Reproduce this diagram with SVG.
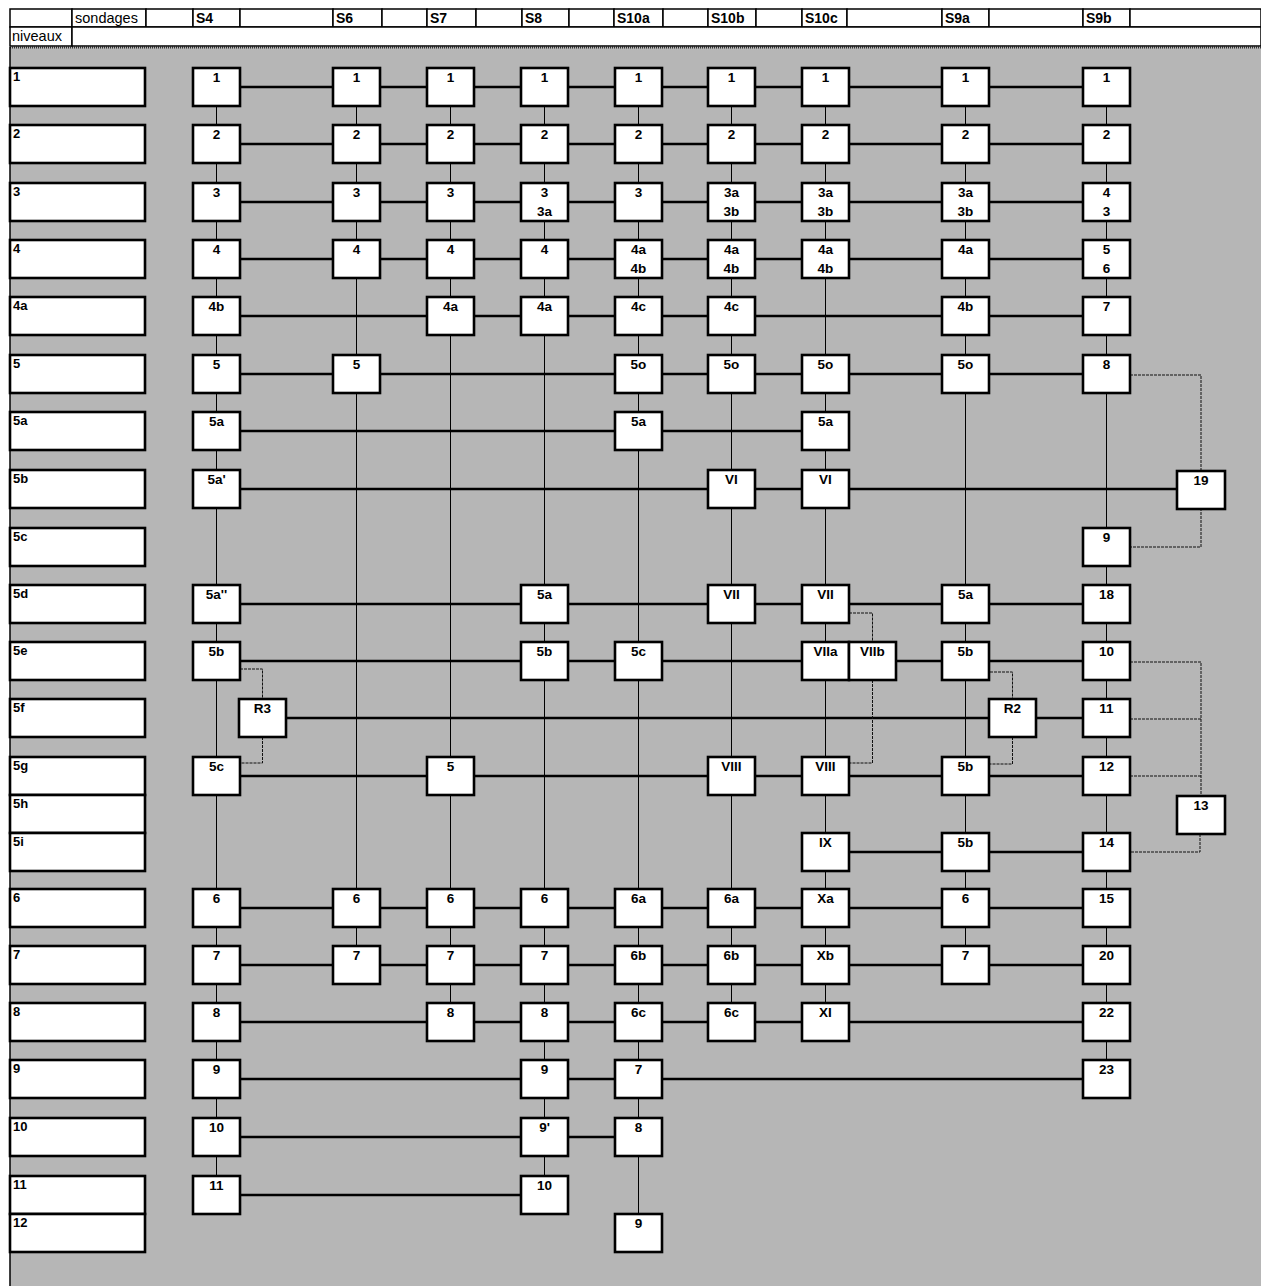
<svg xmlns="http://www.w3.org/2000/svg" width="1261" height="1286" viewBox="0 0 1261 1286">
<style>
.hd rect{fill:#fff;stroke:#000;stroke-width:1.5}
.hd text{font-family:"Liberation Sans",Arial,sans-serif;font-size:14.5px;fill:#000}
.hd .s{font-weight:bold;font-size:14px}
.lv rect,.nd rect{fill:#fff;stroke:#000;stroke-width:2.6}
.lv text{font-family:"Liberation Sans",Arial,sans-serif;font-weight:bold;font-size:13px;fill:#000}
.nd text{font-family:"Liberation Sans",Arial,sans-serif;font-weight:bold;font-size:13.5px;fill:#000;text-anchor:middle}
.h{stroke:#000;stroke-width:2.6}
.v{stroke:#000;stroke-width:1}
.d{stroke:#111;stroke-width:1;fill:none;stroke-dasharray:3 1}
</style>
<rect width="1261" height="1286" fill="#fff"/>
<rect x="10" y="47" width="1251" height="1239" fill="#b6b6b6"/>
<line x1="10" y1="47.5" x2="1261" y2="47.5" stroke="#333" stroke-width="2" stroke-dasharray="1 1"/>
<line x1="10" y1="47" x2="10" y2="1286" stroke="#000" stroke-width="1.5"/>

<g id="header" class="hd">
<rect x="10" y="9" width="62" height="18"/>
<rect x="72" y="9" width="74" height="18"/><text x="75" y="23">sondages</text>
<rect x="146" y="9" width="47" height="18"/>
<rect x="193" y="9" width="47" height="18"/><text class="s" x="196" y="23">S4</text>
<rect x="240" y="9" width="93" height="18"/>
<rect x="333" y="9" width="49" height="18"/><text class="s" x="336" y="23">S6</text>
<rect x="382" y="9" width="45" height="18"/>
<rect x="427" y="9" width="49" height="18"/><text class="s" x="430" y="23">S7</text>
<rect x="476" y="9" width="46" height="18"/>
<rect x="522" y="9" width="47" height="18"/><text class="s" x="525" y="23">S8</text>
<rect x="569" y="9" width="45" height="18"/>
<rect x="614" y="9" width="49" height="18"/><text class="s" x="617" y="23">S10a</text>
<rect x="663" y="9" width="45" height="18"/>
<rect x="708" y="9" width="48" height="18"/><text class="s" x="711" y="23">S10b</text>
<rect x="756" y="9" width="46" height="18"/>
<rect x="802" y="9" width="45" height="18"/><text class="s" x="805" y="23">S10c</text>
<rect x="847" y="9" width="95" height="18"/>
<rect x="942" y="9" width="47" height="18"/><text class="s" x="945" y="23">S9a</text>
<rect x="989" y="9" width="94" height="18"/>
<rect x="1083" y="9" width="47" height="18"/><text class="s" x="1086" y="23">S9b</text>
<rect x="1130" y="9" width="131" height="18"/>
<rect x="10" y="27" width="62" height="19"/><text x="12" y="41">niveaux</text>
<rect x="72" y="27" width="1189" height="19"/>
</g>

<g id="connectors">
<g id="horizontal">
<line class="h" x1="240" y1="87" x2="1083" y2="87"/>
<line class="h" x1="240" y1="144" x2="1083" y2="144"/>
<line class="h" x1="240" y1="202" x2="1083" y2="202"/>
<line class="h" x1="240" y1="259" x2="1083" y2="259"/>
<line class="h" x1="240" y1="316" x2="1083" y2="316"/>
<line class="h" x1="240" y1="374" x2="1083" y2="374"/>
<line class="h" x1="240" y1="431" x2="802" y2="431"/>
<line class="h" x1="240" y1="489" x2="1177" y2="489"/>
<line class="h" x1="240" y1="604" x2="1083" y2="604"/>
<line class="h" x1="240" y1="661" x2="1083" y2="661"/>
<line class="h" x1="286" y1="718" x2="1083" y2="718"/>
<line class="h" x1="240" y1="776" x2="1083" y2="776"/>
<line class="h" x1="849" y1="852" x2="1083" y2="852"/>
<line class="h" x1="240" y1="908" x2="1083" y2="908"/>
<line class="h" x1="240" y1="965" x2="1083" y2="965"/>
<line class="h" x1="240" y1="1022" x2="1083" y2="1022"/>
<line class="h" x1="240" y1="1079" x2="1083" y2="1079"/>
<line class="h" x1="240" y1="1137" x2="615" y2="1137"/>
<line class="h" x1="240" y1="1195" x2="521" y2="1195"/>
</g>
<g id="vertical">
<line class="v" x1="216.5" y1="87" x2="216.5" y2="1195"/>
<line class="v" x1="356.5" y1="87" x2="356.5" y2="965"/>
<line class="v" x1="450.5" y1="87" x2="450.5" y2="1022"/>
<line class="v" x1="544.5" y1="87" x2="544.5" y2="1195"/>
<line class="v" x1="638.5" y1="87" x2="638.5" y2="1233"/>
<line class="v" x1="731.5" y1="87" x2="731.5" y2="1022"/>
<line class="v" x1="825.5" y1="87" x2="825.5" y2="1022"/>
<line class="v" x1="965.5" y1="87" x2="965.5" y2="965"/>
<line class="v" x1="1106.5" y1="87" x2="1106.5" y2="1079"/>
</g>
<g id="side">
<polyline class="d" points="240,669 262.5,669 262.5,699"/>
<polyline class="d" points="262.5,737 262.5,763 240,763"/>
<polyline class="d" points="990,672 1012.5,672 1012.5,699"/>
<polyline class="d" points="1012.5,737 1012.5,764 990,764"/>
<polyline class="d" points="849,613 872.5,613 872.5,642"/>
<polyline class="d" points="872.5,680 872.5,763 849,763"/>
<polyline class="d" points="1130,375 1201,375 1201,471"/>
<polyline class="d" points="1201,508 1201,547 1130,547"/>
<polyline class="d" points="1130,662 1201,662 1201,796"/>
<line class="d" x1="1130" y1="719" x2="1201" y2="719"/>
<line class="d" x1="1130" y1="776" x2="1201" y2="776"/>
<polyline class="d" points="1200,834 1200,852 1130,852"/>
</g>
</g>

<g id="levels" class="lv">
<g id="lv-1"><rect x="10" y="68" width="135" height="38"/><text x="13" y="81">1</text></g>
<g id="lv-2"><rect x="10" y="125" width="135" height="38"/><text x="13" y="138">2</text></g>
<g id="lv-3"><rect x="10" y="183" width="135" height="38"/><text x="13" y="196">3</text></g>
<g id="lv-4"><rect x="10" y="240" width="135" height="38"/><text x="13" y="253">4</text></g>
<g id="lv-4a"><rect x="10" y="297" width="135" height="38"/><text x="13" y="310">4a</text></g>
<g id="lv-5"><rect x="10" y="355" width="135" height="38"/><text x="13" y="368">5</text></g>
<g id="lv-5a"><rect x="10" y="412" width="135" height="38"/><text x="13" y="425">5a</text></g>
<g id="lv-5b"><rect x="10" y="470" width="135" height="38"/><text x="13" y="483">5b</text></g>
<g id="lv-5c"><rect x="10" y="528" width="135" height="38"/><text x="13" y="541">5c</text></g>
<g id="lv-5d"><rect x="10" y="585" width="135" height="38"/><text x="13" y="598">5d</text></g>
<g id="lv-5e"><rect x="10" y="642" width="135" height="38"/><text x="13" y="655">5e</text></g>
<g id="lv-5f"><rect x="10" y="699" width="135" height="38"/><text x="13" y="712">5f</text></g>
<g id="lv-5g"><rect x="10" y="757" width="135" height="38"/><text x="13" y="770">5g</text></g>
<g id="lv-5h"><rect x="10" y="795" width="135" height="38"/><text x="13" y="808">5h</text></g>
<g id="lv-5i"><rect x="10" y="833" width="135" height="38"/><text x="13" y="846">5i</text></g>
<g id="lv-6"><rect x="10" y="889" width="135" height="38"/><text x="13" y="902">6</text></g>
<g id="lv-7"><rect x="10" y="946" width="135" height="38"/><text x="13" y="959">7</text></g>
<g id="lv-8"><rect x="10" y="1003" width="135" height="38"/><text x="13" y="1016">8</text></g>
<g id="lv-9"><rect x="10" y="1060" width="135" height="38"/><text x="13" y="1073">9</text></g>
<g id="lv-10"><rect x="10" y="1118" width="135" height="38"/><text x="13" y="1131">10</text></g>
<g id="lv-11"><rect x="10" y="1176" width="135" height="38"/><text x="13" y="1189">11</text></g>
<g id="lv-12"><rect x="10" y="1214" width="135" height="38"/><text x="13" y="1227">12</text></g>
</g>

<g id="nodes" class="nd">
<!-- S4 -->
<g id="s4-1"><rect x="193" y="68" width="47" height="38"/><text x="216.5" y="82">1</text></g>
<g id="s4-2"><rect x="193" y="125" width="47" height="38"/><text x="216.5" y="139">2</text></g>
<g id="s4-3"><rect x="193" y="183" width="47" height="38"/><text x="216.5" y="197">3</text></g>
<g id="s4-4"><rect x="193" y="240" width="47" height="38"/><text x="216.5" y="254">4</text></g>
<g id="s4-4b"><rect x="193" y="297" width="47" height="38"/><text x="216.5" y="311">4b</text></g>
<g id="s4-5"><rect x="193" y="355" width="47" height="38"/><text x="216.5" y="369">5</text></g>
<g id="s4-5a"><rect x="193" y="412" width="47" height="38"/><text x="216.5" y="426">5a</text></g>
<g id="s4-5a1"><rect x="193" y="470" width="47" height="38"/><text x="216.5" y="484">5a'</text></g>
<g id="s4-5a2"><rect x="193" y="585" width="47" height="38"/><text x="216.5" y="599">5a''</text></g>
<g id="s4-5b"><rect x="193" y="642" width="47" height="38"/><text x="216.5" y="656">5b</text></g>
<g id="s4-5c"><rect x="193" y="757" width="47" height="38"/><text x="216.5" y="771">5c</text></g>
<g id="s4-6"><rect x="193" y="889" width="47" height="38"/><text x="216.5" y="903">6</text></g>
<g id="s4-7"><rect x="193" y="946" width="47" height="38"/><text x="216.5" y="960">7</text></g>
<g id="s4-8"><rect x="193" y="1003" width="47" height="38"/><text x="216.5" y="1017">8</text></g>
<g id="s4-9"><rect x="193" y="1060" width="47" height="38"/><text x="216.5" y="1074">9</text></g>
<g id="s4-10"><rect x="193" y="1118" width="47" height="38"/><text x="216.5" y="1132">10</text></g>
<g id="s4-11"><rect x="193" y="1176" width="47" height="38"/><text x="216.5" y="1190">11</text></g>
<g id="r3"><rect x="239" y="699" width="47" height="38"/><text x="262.5" y="713">R3</text></g>
<!-- S6 -->
<g id="s6-1"><rect x="333" y="68" width="47" height="38"/><text x="356.5" y="82">1</text></g>
<g id="s6-2"><rect x="333" y="125" width="47" height="38"/><text x="356.5" y="139">2</text></g>
<g id="s6-3"><rect x="333" y="183" width="47" height="38"/><text x="356.5" y="197">3</text></g>
<g id="s6-4"><rect x="333" y="240" width="47" height="38"/><text x="356.5" y="254">4</text></g>
<g id="s6-5"><rect x="333" y="355" width="47" height="38"/><text x="356.5" y="369">5</text></g>
<g id="s6-6"><rect x="333" y="889" width="47" height="38"/><text x="356.5" y="903">6</text></g>
<g id="s6-7"><rect x="333" y="946" width="47" height="38"/><text x="356.5" y="960">7</text></g>
<!-- S7 -->
<g id="s7-1"><rect x="427" y="68" width="47" height="38"/><text x="450.5" y="82">1</text></g>
<g id="s7-2"><rect x="427" y="125" width="47" height="38"/><text x="450.5" y="139">2</text></g>
<g id="s7-3"><rect x="427" y="183" width="47" height="38"/><text x="450.5" y="197">3</text></g>
<g id="s7-4"><rect x="427" y="240" width="47" height="38"/><text x="450.5" y="254">4</text></g>
<g id="s7-4a"><rect x="427" y="297" width="47" height="38"/><text x="450.5" y="311">4a</text></g>
<g id="s7-5"><rect x="427" y="757" width="47" height="38"/><text x="450.5" y="771">5</text></g>
<g id="s7-6"><rect x="427" y="889" width="47" height="38"/><text x="450.5" y="903">6</text></g>
<g id="s7-7"><rect x="427" y="946" width="47" height="38"/><text x="450.5" y="960">7</text></g>
<g id="s7-8"><rect x="427" y="1003" width="47" height="38"/><text x="450.5" y="1017">8</text></g>
<!-- S8 -->
<g id="s8-1"><rect x="521" y="68" width="47" height="38"/><text x="544.5" y="82">1</text></g>
<g id="s8-2"><rect x="521" y="125" width="47" height="38"/><text x="544.5" y="139">2</text></g>
<g id="s8-3"><rect x="521" y="183" width="47" height="38"/><text x="544.5" y="197">3</text><text x="544.5" y="216">3a</text></g>
<g id="s8-4"><rect x="521" y="240" width="47" height="38"/><text x="544.5" y="254">4</text></g>
<g id="s8-4a"><rect x="521" y="297" width="47" height="38"/><text x="544.5" y="311">4a</text></g>
<g id="s8-5a"><rect x="521" y="585" width="47" height="38"/><text x="544.5" y="599">5a</text></g>
<g id="s8-5b"><rect x="521" y="642" width="47" height="38"/><text x="544.5" y="656">5b</text></g>
<g id="s8-6"><rect x="521" y="889" width="47" height="38"/><text x="544.5" y="903">6</text></g>
<g id="s8-7"><rect x="521" y="946" width="47" height="38"/><text x="544.5" y="960">7</text></g>
<g id="s8-8"><rect x="521" y="1003" width="47" height="38"/><text x="544.5" y="1017">8</text></g>
<g id="s8-9"><rect x="521" y="1060" width="47" height="38"/><text x="544.5" y="1074">9</text></g>
<g id="s8-9p"><rect x="521" y="1118" width="47" height="38"/><text x="544.5" y="1132">9'</text></g>
<g id="s8-10"><rect x="521" y="1176" width="47" height="38"/><text x="544.5" y="1190">10</text></g>
<!-- S10a -->
<g id="s10a-1"><rect x="615" y="68" width="47" height="38"/><text x="638.5" y="82">1</text></g>
<g id="s10a-2"><rect x="615" y="125" width="47" height="38"/><text x="638.5" y="139">2</text></g>
<g id="s10a-3"><rect x="615" y="183" width="47" height="38"/><text x="638.5" y="197">3</text></g>
<g id="s10a-4a"><rect x="615" y="240" width="47" height="38"/><text x="638.5" y="254">4a</text><text x="638.5" y="273">4b</text></g>
<g id="s10a-4c"><rect x="615" y="297" width="47" height="38"/><text x="638.5" y="311">4c</text></g>
<g id="s10a-5o"><rect x="615" y="355" width="47" height="38"/><text x="638.5" y="369">5o</text></g>
<g id="s10a-5a"><rect x="615" y="412" width="47" height="38"/><text x="638.5" y="426">5a</text></g>
<g id="s10a-5c"><rect x="615" y="642" width="47" height="38"/><text x="638.5" y="656">5c</text></g>
<g id="s10a-6a"><rect x="615" y="889" width="47" height="38"/><text x="638.5" y="903">6a</text></g>
<g id="s10a-6b"><rect x="615" y="946" width="47" height="38"/><text x="638.5" y="960">6b</text></g>
<g id="s10a-6c"><rect x="615" y="1003" width="47" height="38"/><text x="638.5" y="1017">6c</text></g>
<g id="s10a-7"><rect x="615" y="1060" width="47" height="38"/><text x="638.5" y="1074">7</text></g>
<g id="s10a-8"><rect x="615" y="1118" width="47" height="38"/><text x="638.5" y="1132">8</text></g>
<g id="s10a-9"><rect x="615" y="1214" width="47" height="38"/><text x="638.5" y="1228">9</text></g>
<!-- S10b -->
<g id="s10b-1"><rect x="708" y="68" width="47" height="38"/><text x="731.5" y="82">1</text></g>
<g id="s10b-2"><rect x="708" y="125" width="47" height="38"/><text x="731.5" y="139">2</text></g>
<g id="s10b-3a"><rect x="708" y="183" width="47" height="38"/><text x="731.5" y="197">3a</text><text x="731.5" y="216">3b</text></g>
<g id="s10b-4a"><rect x="708" y="240" width="47" height="38"/><text x="731.5" y="254">4a</text><text x="731.5" y="273">4b</text></g>
<g id="s10b-4c"><rect x="708" y="297" width="47" height="38"/><text x="731.5" y="311">4c</text></g>
<g id="s10b-5o"><rect x="708" y="355" width="47" height="38"/><text x="731.5" y="369">5o</text></g>
<g id="s10b-VI"><rect x="708" y="470" width="47" height="38"/><text x="731.5" y="484">VI</text></g>
<g id="s10b-VII"><rect x="708" y="585" width="47" height="38"/><text x="731.5" y="599">VII</text></g>
<g id="s10b-VIII"><rect x="708" y="757" width="47" height="38"/><text x="731.5" y="771">VIII</text></g>
<g id="s10b-6a"><rect x="708" y="889" width="47" height="38"/><text x="731.5" y="903">6a</text></g>
<g id="s10b-6b"><rect x="708" y="946" width="47" height="38"/><text x="731.5" y="960">6b</text></g>
<g id="s10b-6c"><rect x="708" y="1003" width="47" height="38"/><text x="731.5" y="1017">6c</text></g>
<!-- S10c -->
<g id="s10c-1"><rect x="802" y="68" width="47" height="38"/><text x="825.5" y="82">1</text></g>
<g id="s10c-2"><rect x="802" y="125" width="47" height="38"/><text x="825.5" y="139">2</text></g>
<g id="s10c-3a"><rect x="802" y="183" width="47" height="38"/><text x="825.5" y="197">3a</text><text x="825.5" y="216">3b</text></g>
<g id="s10c-4a"><rect x="802" y="240" width="47" height="38"/><text x="825.5" y="254">4a</text><text x="825.5" y="273">4b</text></g>
<g id="s10c-5o"><rect x="802" y="355" width="47" height="38"/><text x="825.5" y="369">5o</text></g>
<g id="s10c-5a"><rect x="802" y="412" width="47" height="38"/><text x="825.5" y="426">5a</text></g>
<g id="s10c-VI"><rect x="802" y="470" width="47" height="38"/><text x="825.5" y="484">VI</text></g>
<g id="s10c-VII"><rect x="802" y="585" width="47" height="38"/><text x="825.5" y="599">VII</text></g>
<g id="s10c-VIIa"><rect x="802" y="642" width="47" height="38"/><text x="825.5" y="656">VIIa</text></g>
<g id="s10c-VIIb"><rect x="849" y="642" width="47" height="38"/><text x="872.5" y="656">VIIb</text></g>
<g id="s10c-VIII"><rect x="802" y="757" width="47" height="38"/><text x="825.5" y="771">VIII</text></g>
<g id="s10c-IX"><rect x="802" y="833" width="47" height="38"/><text x="825.5" y="847">IX</text></g>
<g id="s10c-Xa"><rect x="802" y="889" width="47" height="38"/><text x="825.5" y="903">Xa</text></g>
<g id="s10c-Xb"><rect x="802" y="946" width="47" height="38"/><text x="825.5" y="960">Xb</text></g>
<g id="s10c-XI"><rect x="802" y="1003" width="47" height="38"/><text x="825.5" y="1017">XI</text></g>
<!-- S9a -->
<g id="s9a-1"><rect x="942" y="68" width="47" height="38"/><text x="965.5" y="82">1</text></g>
<g id="s9a-2"><rect x="942" y="125" width="47" height="38"/><text x="965.5" y="139">2</text></g>
<g id="s9a-3a"><rect x="942" y="183" width="47" height="38"/><text x="965.5" y="197">3a</text><text x="965.5" y="216">3b</text></g>
<g id="s9a-4a"><rect x="942" y="240" width="47" height="38"/><text x="965.5" y="254">4a</text></g>
<g id="s9a-4b"><rect x="942" y="297" width="47" height="38"/><text x="965.5" y="311">4b</text></g>
<g id="s9a-5o"><rect x="942" y="355" width="47" height="38"/><text x="965.5" y="369">5o</text></g>
<g id="s9a-5a"><rect x="942" y="585" width="47" height="38"/><text x="965.5" y="599">5a</text></g>
<g id="s9a-5b1"><rect x="942" y="642" width="47" height="38"/><text x="965.5" y="656">5b</text></g>
<g id="s9a-5b2"><rect x="942" y="757" width="47" height="38"/><text x="965.5" y="771">5b</text></g>
<g id="s9a-5b3"><rect x="942" y="833" width="47" height="38"/><text x="965.5" y="847">5b</text></g>
<g id="s9a-6"><rect x="942" y="889" width="47" height="38"/><text x="965.5" y="903">6</text></g>
<g id="s9a-7"><rect x="942" y="946" width="47" height="38"/><text x="965.5" y="960">7</text></g>
<g id="r2"><rect x="989" y="699" width="47" height="38"/><text x="1012.5" y="713">R2</text></g>
<!-- S9b -->
<g id="s9b-1"><rect x="1083" y="68" width="47" height="38"/><text x="1106.5" y="82">1</text></g>
<g id="s9b-2"><rect x="1083" y="125" width="47" height="38"/><text x="1106.5" y="139">2</text></g>
<g id="s9b-4"><rect x="1083" y="183" width="47" height="38"/><text x="1106.5" y="197">4</text><text x="1106.5" y="216">3</text></g>
<g id="s9b-5"><rect x="1083" y="240" width="47" height="38"/><text x="1106.5" y="254">5</text><text x="1106.5" y="273">6</text></g>
<g id="s9b-7"><rect x="1083" y="297" width="47" height="38"/><text x="1106.5" y="311">7</text></g>
<g id="s9b-8"><rect x="1083" y="355" width="47" height="38"/><text x="1106.5" y="369">8</text></g>
<g id="s9b-9"><rect x="1083" y="528" width="47" height="38"/><text x="1106.5" y="542">9</text></g>
<g id="s9b-18"><rect x="1083" y="585" width="47" height="38"/><text x="1106.5" y="599">18</text></g>
<g id="s9b-10"><rect x="1083" y="642" width="47" height="38"/><text x="1106.5" y="656">10</text></g>
<g id="s9b-11"><rect x="1083" y="699" width="47" height="38"/><text x="1106.5" y="713">11</text></g>
<g id="s9b-12"><rect x="1083" y="757" width="47" height="38"/><text x="1106.5" y="771">12</text></g>
<g id="s9b-14"><rect x="1083" y="833" width="47" height="38"/><text x="1106.5" y="847">14</text></g>
<g id="s9b-15"><rect x="1083" y="889" width="47" height="38"/><text x="1106.5" y="903">15</text></g>
<g id="s9b-20"><rect x="1083" y="946" width="47" height="38"/><text x="1106.5" y="960">20</text></g>
<g id="s9b-22"><rect x="1083" y="1003" width="47" height="38"/><text x="1106.5" y="1017">22</text></g>
<g id="s9b-23"><rect x="1083" y="1060" width="47" height="38"/><text x="1106.5" y="1074">23</text></g>
<g id="n19"><rect x="1177" y="471" width="48" height="38"/><text x="1201" y="485">19</text></g>
<g id="n13"><rect x="1177" y="796" width="48" height="38"/><text x="1201" y="810">13</text></g>
</g>
</svg>
